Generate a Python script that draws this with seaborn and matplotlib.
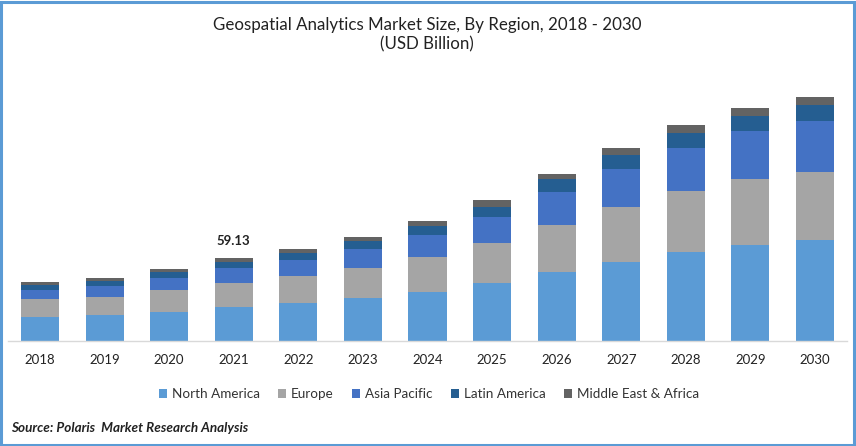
"""Geospatial analytics market size by region, stacked bars."""

import matplotlib.pyplot as plt
from matplotlib.patches import Rectangle
import numpy as np
import seaborn as sns

# ── Data ──────────────────────────────────────────────────────────────────────

years = ["2018", "2019", "2020", "2021", "2022", "2023", "2024",
         "2025", "2026", "2027", "2028", "2029", "2030"]

north_america = [17.1, 18.5, 20.7, 24.2, 27.1, 30.6, 34.9, 41.3, 49.2, 56.3, 63.4, 68.4, 72.0]
europe        = [12.8, 12.8, 15.7, 17.1, 19.2, 21.4, 24.9, 28.5, 33.5, 39.2, 43.5, 47.0, 48.4]
asia_pacific  = [6.4, 7.8, 8.5, 10.7, 11.4, 13.5, 15.7, 18.5, 23.5, 27.1, 30.6, 34.2, 36.3]
latin_america = [3.6, 3.6, 4.3, 4.3, 5.0, 5.7, 6.4, 7.1, 9.3, 10.0, 10.7, 10.7, 11.4]
mea           = [2.1, 2.1, 2.1, 2.83, 2.9, 2.9, 3.6, 5.0, 3.6, 5.0, 5.7, 5.7, 5.7]

regions = ["North America", "Europe", "Asia Pacific", "Latin America", "Middle East & Africa"]
series = [north_america, europe, asia_pacific, latin_america, mea]
colors = ["#5B9BD5", "#A5A5A5", "#4472C4", "#255E91", "#636363"]

labelled_year = "2021"
labelled_value = "59.13"

# ── Figure ────────────────────────────────────────────────────────────────────

sns.set_theme(style="white")
plt.rcParams["font.family"] = ["Lato", "DejaVu Sans"]

W, H = 856, 446
fig = plt.figure(figsize=(W / 100, H / 100), dpi=100)
ax = fig.add_axes([7.7 / W, 1 - 341 / H, 839.6 / W, 281 / H])

bottom = np.zeros(len(years))
for name, vals, col in zip(regions, series, colors):
    sns.barplot(x=years, y=vals, bottom=bottom, color=col, saturation=1,
                width=0.59, label=name, ax=ax, legend=False, linewidth=0)
    bottom += np.array(vals)

ax.set_ylim(0, 200)
ax.set_xlim(-0.5, len(years) - 0.5)
ax.set_yticks([])
ax.set_ylabel("")
ax.tick_params(axis="x", length=0, pad=9, labelsize=9.5, labelcolor="#222222")
ax.spines[["top", "right", "left"]].set_visible(False)
ax.spines["bottom"].set_color("#D9D9D9")
ax.spines["bottom"].set_linewidth(1)

i = years.index(labelled_year)
ax.annotate(labelled_value, (i, bottom[i]), xytext=(0, 8), textcoords="offset points",
            ha="center", va="bottom", fontsize=9.5, fontweight="bold", color="#222222")

fig.text(427 / W, 1 - 25 / H, "Geospatial Analytics Market Size, By Region, 2018 - 2030",
         ha="center", va="center", fontsize=12.2, color="#222222")
fig.text(427 / W, 1 - 44.5 / H, "(USD Billion)",
         ha="center", va="center", fontsize=12.2, color="#222222")

ax.legend(*ax.get_legend_handles_labels(), loc="center", bbox_to_anchor=(429 / W, 1 - 394 / H),
          bbox_transform=fig.transFigure, ncol=5, frameon=False, fontsize=9.7,
          handlelength=0.6, handleheight=0.6, handletextpad=0.35, columnspacing=1.37,
          labelcolor="#333333")

fig.text(11 / W, 1 - 428 / H, "Source: Polaris  Market Research Analysis",
         ha="left", va="center", fontsize=9.7, fontweight="bold", fontstyle="italic",
         color="#222222")

# blue frame around the picture
fig.add_artist(Rectangle((1 / W, 1.5 / H), (W - 3) / W, (H - 3) / H, transform=fig.transFigure,
                         fill=False, edgecolor="#5B9BD5", linewidth=2.2))

fig.savefig("out.png", dpi=100)
